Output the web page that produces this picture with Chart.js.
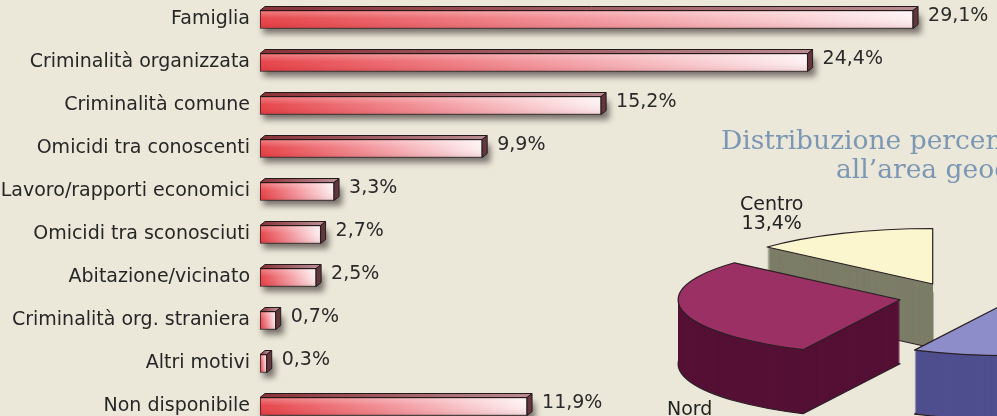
<!DOCTYPE html>
<html>
<head>
<meta charset="utf-8">
<script src="https://cdn.jsdelivr.net/npm/chart.js@4.4.0/dist/chart.umd.min.js"></script>
<style>
html, body { margin: 0; padding: 0; background: #ebe8da; overflow: hidden; width: 997px; height: 416px; }
#pieBox { position: absolute; left: 600px; top: 0; width: 800px; height: 520px; }
#barBox { position: absolute; left: 0; top: -2px; width: 997px; height: 430px; }
.title { position: absolute; font-family: 'DejaVu Serif'; font-size: 26.5px; line-height: 28px; color: #7b97b3; white-space: nowrap; }
.plabel { position: absolute; font-family: 'DejaVu Sans'; font-size: 19px; line-height: 19px; color: #222; text-align: center; white-space: nowrap; }
</style>
</head>
<body>
<div id="pieBox"><canvas id="pieChart"></canvas></div>
<div class="title" style="left:721px; top:126px;">Distribuzione percentuale rispetto</div>
<div class="title" style="left:836px; top:155px;">all’area geografica</div>
<div class="plabel" style="left:740px; top:194px;">Centro<br>13,4%</div>
<div class="plabel" style="left:667px; top:399px;">Nord</div>
<div id="barBox"><canvas id="barChart"></canvas></div>
<script>
// moventi degli omicidi (%)
const categories = [
    'Famiglia', 'Criminalità organizzata', 'Criminalità comune', 'Omicidi tra conoscenti',
    'Lavoro/rapporti economici', 'Omicidi tra sconosciuti', 'Abitazione/vicinato',
    'Criminalità org. straniera', 'Altri motivi', 'Non disponibile'
];
const shares = [29.1, 24.4, 15.2, 9.9, 3.3, 2.7, 2.5, 0.7, 0.3, 11.9];

// distribuzione per area geografica (%)
const areaLabels = ['Sud', 'Nord', 'Centro'];
const areaShares = [57.2, 29.4, 13.4];

function fmt(v) {
    return v.toFixed(1).replace('.', ',') + '%';
}

function barFill(c) {
    const xs = c.chart.scales.x;
    if (!xs || c.type !== 'data') return '#ee6a6f';
    const x0 = xs.getPixelForValue(0);
    const x1 = xs.getPixelForValue(c.raw);
    if (!isFinite(x0) || !isFinite(x1) || x1 <= x0) return '#ee6a6f';
    const g = c.chart.ctx.createLinearGradient(x0, 0, x1, 0);
    g.addColorStop(0, '#e53d42');
    g.addColorStop(0.5, '#f2939a');
    g.addColorStop(1, '#fdf0f2');
    return g;
}

const bar3d = {
    id: 'bar3d',
    beforeDatasetsDraw: (chart, args, o) => {
        const ctx = chart.ctx;
        chart.getDatasetMeta(0).data.forEach(b => {
            const top = b.y - b.height / 2;
            ctx.save();
            ctx.filter = 'blur(3px)';
            ctx.fillStyle = 'rgba(40,30,30,0.6)';
            ctx.fillRect(b.base + 3, top + 5, b.x - b.base + o.dx, b.height);
            ctx.restore();
        });
    },
    afterDatasetsDraw: (chart, args, o) => {
        const ctx = chart.ctx;
        chart.getDatasetMeta(0).data.forEach((b, i) => {
            const top = b.y - b.height / 2, bot = b.y + b.height / 2;
            ctx.save();
            // gloss on the front face
            const gl = ctx.createLinearGradient(0, top, 0, bot);
            gl.addColorStop(0, 'rgba(255,255,255,0.35)');
            gl.addColorStop(0.45, 'rgba(255,255,255,0.05)');
            gl.addColorStop(1, 'rgba(150,0,10,0.12)');
            ctx.fillStyle = gl;
            ctx.fillRect(b.base + 1, top + 1, b.x - b.base - 2, b.height - 2);
            ctx.lineWidth = 1;
            ctx.strokeStyle = '#241a1c';
            ctx.lineJoin = 'round';
            // top face
            const tg = ctx.createLinearGradient(b.base, 0, b.x + 1, 0);
            tg.addColorStop(0, '#8a3136');
            tg.addColorStop(1, '#b98b91');
            ctx.fillStyle = tg;
            ctx.beginPath();
            ctx.moveTo(b.base, top);
            ctx.lineTo(b.base + o.dx, top - o.dy);
            ctx.lineTo(b.x + o.dx, top - o.dy);
            ctx.lineTo(b.x, top);
            ctx.closePath();
            ctx.fill();
            ctx.stroke();
            // side face
            ctx.fillStyle = '#64373e';
            ctx.beginPath();
            ctx.moveTo(b.x, top);
            ctx.lineTo(b.x + o.dx, top - o.dy);
            ctx.lineTo(b.x + o.dx, bot - o.dy);
            ctx.lineTo(b.x, bot);
            ctx.closePath();
            ctx.fill();
            ctx.stroke();
            // value label
            ctx.fillStyle = '#2a2a2a';
            ctx.font = '19px "DejaVu Sans"';
            ctx.textAlign = 'left';
            ctx.textBaseline = 'middle';
            ctx.fillText(fmt(shares[i]), b.x + o.dx + 10, b.y - 3);
            ctx.restore();
        });
    }
};

const pie3d = {
    id: 'pie3d',
    beforeDatasetsDraw: (chart, args, o) => {
        const ctx = chart.ctx;
        const meta = chart.getDatasetMeta(0);
        o.order.forEach(i => {
            const a = meta.data[i];
            const p = a.getProps(['x', 'y', 'startAngle', 'endAngle', 'outerRadius']);
            const mid = (p.startAngle + p.endAngle) / 2;
            const cx = p.x + Math.cos(mid) * o.explode;
            const cy = p.y + Math.sin(mid) * o.explode * o.tilt;
            const path = dy => {
                ctx.beginPath();
                ctx.moveTo(cx, cy + dy);
                ctx.ellipse(cx, cy + dy, p.outerRadius, p.outerRadius * o.tilt, 0, p.startAngle, p.endAngle);
                ctx.closePath();
            };
            ctx.save();
            ctx.lineWidth = 1.2;
            ctx.strokeStyle = '#2a2024';
            ctx.lineJoin = 'round';
            ctx.fillStyle = o.sides[i];
            path(o.depth);
            ctx.fill();
            ctx.stroke();
            for (let d = o.depth - 1; d >= 1; d--) {
                path(d);
                ctx.fill();
            }
            path(0);
            ctx.fillStyle = a.options.backgroundColor;
            ctx.fill();
            ctx.stroke();
            ctx.restore();
        });
        return false;
    }
};

new Chart(document.getElementById('pieChart'), {
    type: 'pie',
    data: {
        labels: areaLabels,
        datasets: [{
            data: areaShares,
            radius: 222,
            backgroundColor: ['#8d8dca', '#9b3064', '#fbf6cd'],
            borderWidth: 0
        }]
    },
    options: {
        animation: false,
        responsive: true,
        maintainAspectRatio: false,
        layout: { padding: { left: 0, right: 88, top: 74, bottom: 0 } },
        plugins: {
            legend: { display: false },
            tooltip: { enabled: false },
            pie3d: {
                tilt: 0.25,
                depth: 64,
                explode: 57,
                order: [2, 1, 0],
                sides: ['#4f4f8f', '#551035', '#7c7d67']
            }
        }
    },
    plugins: [pie3d]
});

new Chart(document.getElementById('barChart'), {
    type: 'bar',
    data: {
        labels: categories,
        datasets: [{
            data: shares,
            backgroundColor: barFill,
            borderColor: '#241a1c',
            borderWidth: 1,
            borderSkipped: false,
            barThickness: 18
        }]
    },
    options: {
        indexAxis: 'y',
        animation: false,
        responsive: true,
        maintainAspectRatio: false,
        layout: { padding: 0 },
        plugins: {
            legend: { display: false },
            tooltip: { enabled: false },
            bar3d: { dx: 5, dy: 4 }
        },
        scales: {
            x: { min: 0, max: 32.84, display: false },
            y: {
                grid: { display: false, drawTicks: false },
                border: { display: false },
                ticks: {
                    padding: 10,
                    color: '#262626',
                    font: { family: 'DejaVu Sans', size: 19 }
                },
                afterFit: s => {
                    s.width = 260;
                    s.paddingTop = 0;
                    s.paddingBottom = 0;
                }
            }
        }
    },
    plugins: [bar3d]
});
</script>
</body>
</html>
